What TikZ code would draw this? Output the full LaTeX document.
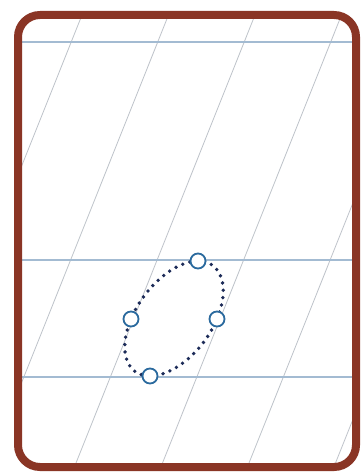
\documentclass[tikz,border=0pt]{standalone}
\usepackage{tikz}
\usetikzlibrary{calc}
\definecolor{framebrown}{HTML}{8A3525}
\definecolor{ruleblue}{HTML}{A3BBD2}
\definecolor{slantgrey}{HTML}{BEC3CA}
\definecolor{ringblue}{HTML}{2B6A9E}
\definecolor{dotnavy}{HTML}{1C2B58}
\tikzset{
  frame/.style={draw=framebrown,line width=8pt,rounded corners=22pt},
  rule-h/.style={draw=ruleblue,line width=2pt},
  rule-s/.style={draw=slantgrey,line width=0.8pt},
  dotring/.style={draw=dotnavy,line width=3.8pt,line cap=round,dash pattern=on 0pt off 7.4pt},
  ring/.style={draw=ringblue,fill=white,circle,minimum size=15pt,inner sep=0pt,line width=1.8pt},
}
\begin{document}
\begin{tikzpicture}[x=1pt,y=-1pt]
  \useasboundingbox (0,0) rectangle (363,473);

  % paper: slanted guide lines and blue rules
  \begin{scope}
    \clip[rounded corners=22pt] (18,15) rectangle (356,467);
    \fill[white] (18,15) rectangle (356,467);
    \draw[rule-s] (88,0)    -- (-101,473);
    \draw[rule-s] (174.5,0) -- (-14.5,473);
    \draw[rule-s] (261,0)   -- (72,473);
    \draw[rule-s] (347.5,0) -- (158.5,473);
    \draw[rule-s] (434,0)   -- (245,473);
    \draw[rule-s] (520.5,0) -- (331.5,473);
    \draw[rule-h] (18,42)  -- (356,42);
    \draw[rule-h] (18,260) -- (356,260);
    \draw[rule-h] (18,377) -- (356,377);
  \end{scope}

  % frame
  \draw[frame] (18,15) rectangle (356,467);

  % dotted loop through the four points
  \coordinate (eT) at (198,261);
  \coordinate (eL) at (131,319);
  \coordinate (eR) at (217,319);
  \coordinate (eB) at (150,376);
  \draw[dotring] (eR) .. controls +(13.25,-31.76) and +(23.75,0) .. (eT)
                      .. controls +(-23.75,0) and +(13.25,-31.76) .. (eL)
                      .. controls +(-13.25,31.76) and +(-23.75,0) .. (eB)
                      .. controls +(23.75,0) and +(-13.25,31.76) .. (eR);

  \node[ring] (pT) at (eT) {};
  \node[ring] (pL) at (eL) {};
  \node[ring] (pR) at (eR) {};
  \node[ring] (pB) at (eB) {};

\end{tikzpicture}
\end{document}
